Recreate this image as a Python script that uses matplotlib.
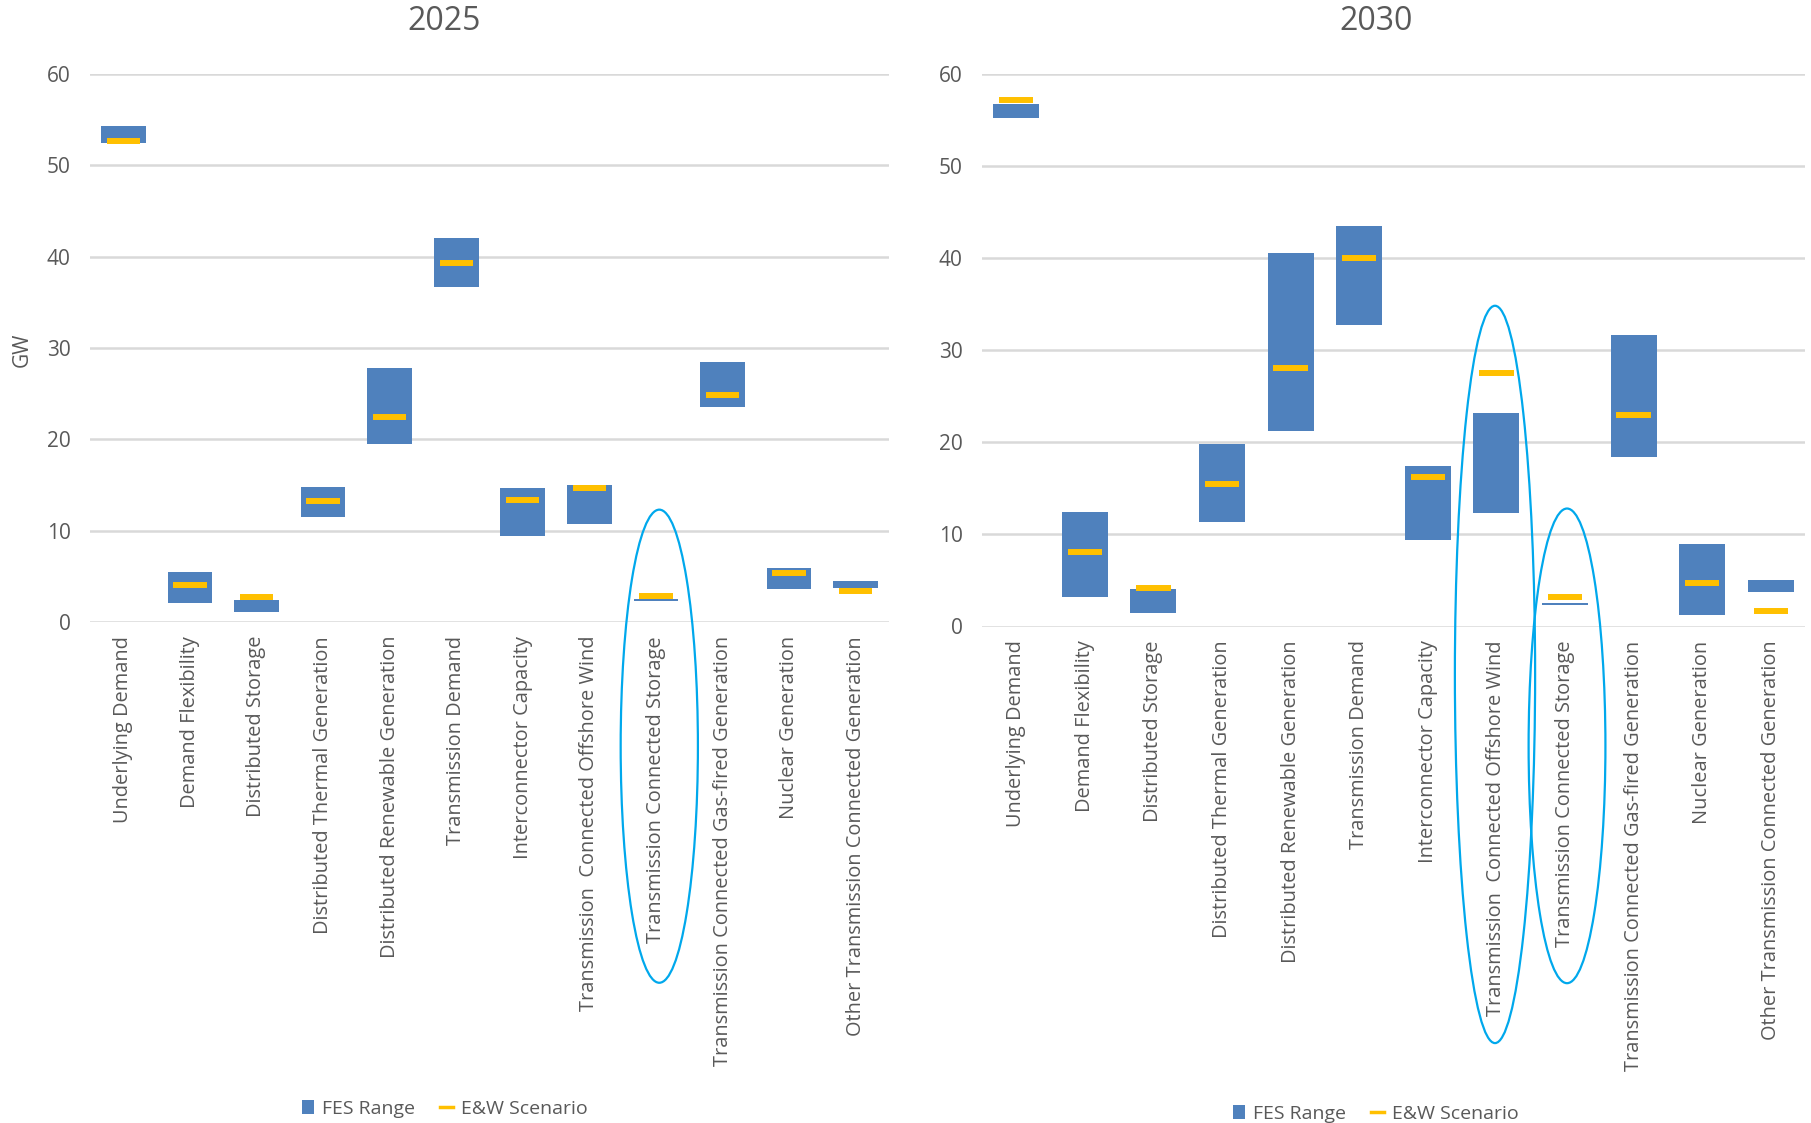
import matplotlib
matplotlib.use("Agg")
import matplotlib.pyplot as plt
from matplotlib.patches import Ellipse, Patch
from matplotlib.lines import Line2D
import numpy as np

plt.rcParams['font.family'] = ['Open Sans', 'DejaVu Sans']

categories = ["Underlying Demand", "Demand Flexibility", "Distributed Storage",
              "Distributed Thermal Generation", "Distributed Renewable Generation",
              "Transmission Demand", "Interconnector Capacity",
              "Transmission  Connected Offshore Wind", "Transmission Connected Storage",
              "Transmission Connected Gas-fired Generation", "Nuclear Generation",
              "Other Transmission Connected Generation"]

# 2025
low_2025 = [52.4, 2.06, 1.07, 11.54, 19.46, 36.64, 9.4, 10.74, 2.35, 23.5, 3.58, 3.67]
high_2025 = [54.27, 5.5, 2.4, 14.77, 27.8, 42.06, 14.63, 15.03, 2.5, 28.5, 5.95, 4.47]
scen_2025 = [52.7, 4.1, 2.77, 13.2, 22.5, 39.28, 13.38, 14.72, 2.9, 24.8, 5.37, 3.36]

# 2030
low_2030 = [55.18, 3.19, 1.42, 11.38, 21.2, 32.73, 9.39, 12.31, 2.35, 18.38, 1.28, 3.72]
high_2030 = [56.73, 12.4, 4.03, 19.8, 40.48, 43.45, 17.36, 23.12, 2.6, 31.58, 8.99, 5.09]
scen_2030 = [57.08, 8.06, 4.16, 15.46, 28.08, 39.95, 16.25, 27.55, 3.23, 22.99, 4.69, 1.73]

titles = ["2025", "2030"]
yticks = [0, 10, 20, 30, 40, 50, 60]

BLUE = "#4F81BD"
YELLOW = "#FFC000"
GRID = "#D9D9D9"
TXT = "#595959"
ELL = "#00A8EC"

W, H = 1811, 1123
fig = plt.figure(figsize=(W / 100, H / 100), dpi=100)

def fx(px):
    return px / W

def fy(py):
    return 1 - py / H

axL = fig.add_axes([fx(90), fy(622), fx(889) - fx(90), fy(74) - fy(622)])
axR = fig.add_axes([fx(982), fy(626.5), fx(1805) - fx(982), fy(73.5) - fy(626.5)])

x = np.arange(len(categories))

for ax, lo, hi, sc in [(axL, low_2025, high_2025, scen_2025),
                       (axR, low_2030, high_2030, scen_2030)]:
    lo = np.array(lo); hi = np.array(hi)
    ax.bar(x, hi - lo, bottom=lo, width=0.67, color=BLUE, zorder=3)
    ax.hlines(sc, x - 0.25, x + 0.25, colors=YELLOW, linewidth=4.3, zorder=4)
    ax.set_xlim(-0.5, len(categories) - 0.5)
    ax.set_ylim(0, 60)
    ax.set_yticks(yticks)
    ax.set_xticks(x)
    ax.set_xticklabels(categories, rotation=90, fontsize=14.4, color=TXT)
    ax.tick_params(axis='x', length=0, pad=10)
    ax.tick_params(axis='y', length=0, pad=14, labelsize=15, labelcolor=TXT)
    for yv in yticks:
        ax.axhline(yv, color=GRID, linewidth=1.8, zorder=1)
    for s in ax.spines.values():
        s.set_visible(False)
    ax.set_facecolor('none')

fig.text(fx(22), fy(350), "GW", fontsize=15, color=TXT, rotation=90,
         ha='center', va='center')

# highlight ellipses
for ax, xc, yc, w, h in [(axL, 8.05, (12.3 - 39.5) / 2, 1.16, 12.3 + 39.5),
                         (axR, 6.98, (34.8 - 45.2) / 2, 1.17, 34.8 + 45.2),
                         (axR, 8.03, (12.8 - 38.7) / 2, 1.12, 12.8 + 38.7)]:
    e = Ellipse((xc, yc), w, h, fill=False, edgecolor=ELL, linewidth=1.6,
                clip_on=False, zorder=5)
    ax.add_patch(e)

fig.text(fx(444), fy(21), titles[0], fontsize=23, color=TXT, ha='center', va='center')
fig.text(fx(1376), fy(21), titles[1], fontsize=23, color=TXT, ha='center', va='center')

handles = [Patch(facecolor=BLUE, edgecolor='none', label="FES Range"),
           Line2D([0], [0], color=YELLOW, linewidth=2.5, label="E&W Scenario")]
for xl, yl in [(292, 1109), (1223, 1114)]:
    fig.legend(handles=handles, loc='center left', bbox_to_anchor=(fx(xl), fy(yl)),
               ncol=2, frameon=False, fontsize=14, handlelength=0.65, handleheight=0.7,
               handletextpad=0.4, columnspacing=1.3, labelcolor=TXT, borderpad=0)

fig.savefig("out.png", dpi=100)
